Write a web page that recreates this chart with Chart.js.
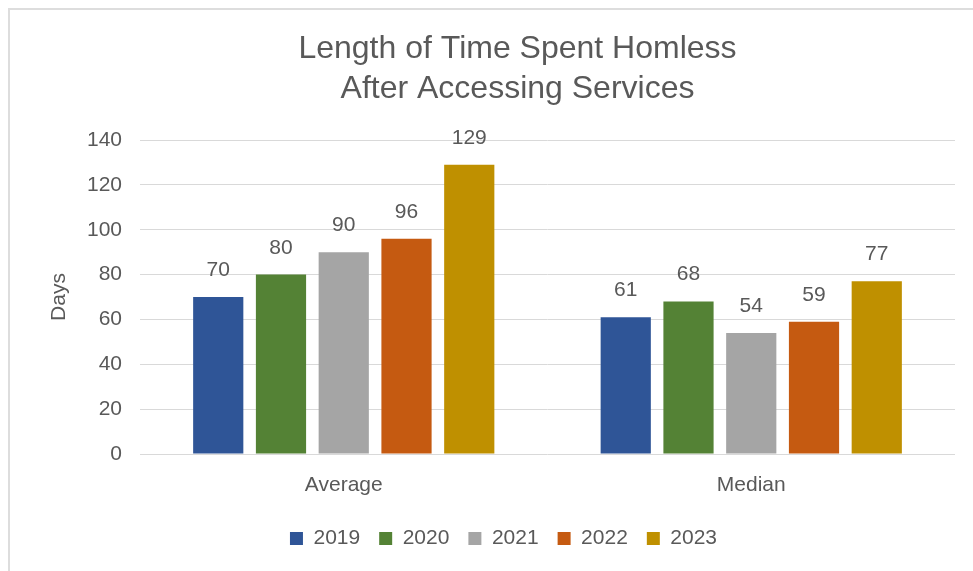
<!DOCTYPE html>
<html>
<head>
<meta charset="utf-8">
<script src="https://cdn.jsdelivr.net/npm/chart.js@4/dist/chart.umd.min.js"></script>
<style>
  html, body { margin: 0; padding: 0; background: #ffffff; }
  #wrap { position: relative; width: 973px; height: 571px; }
</style>
</head>
<body>
<div id="wrap"><canvas id="chart" width="973" height="571"></canvas></div>
<script>
// Days spent homeless after accessing services, by measure and year
const categories = ['Average', 'Median'];
const years = ['2019', '2020', '2021', '2022', '2023'];
const values2019 = [70, 61];
const values2020 = [80, 68];
const values2021 = [90, 54];
const values2022 = [96, 59];
const values2023 = [129, 77];
const yTicks = [0, 20, 40, 60, 80, 100, 120, 140];

const seriesValues = [values2019, values2020, values2021, values2022, values2023];
const seriesColors = ['#2f5597', '#548235', '#a5a5a5', '#c55a11', '#bf9000'];
const textColor = '#595959';
const fontFamily = '"Liberation Sans", Arial, Helvetica, sans-serif';

// light frame around the chart
const framePlugin = {
  id: 'frame',
  beforeDraw(chart) {
    const ctx = chart.ctx;
    ctx.save();
    ctx.strokeStyle = '#dddddd';
    ctx.lineWidth = 2;
    ctx.strokeRect(9, 9, chart.width + 20, chart.height + 20);
    ctx.restore();
  }
};

// the frame runs past the right edge, so title and legend sit right of the canvas centre
const offsetBlocks = {
  id: 'offsetBlocks',
  afterLayout(chart) {
    if (chart.titleBlock) { chart.titleBlock.left += 35; chart.titleBlock.right += 35; }
    if (chart.legend) { chart.legend.left += 21; chart.legend.right += 21; }
  }
};

// value labels above each bar
const valueLabels = {
  id: 'valueLabels',
  afterDatasetsDraw(chart) {
    const ctx = chart.ctx;
    ctx.save();
    ctx.font = '21px ' + fontFamily;
    ctx.fillStyle = textColor;
    ctx.textAlign = 'center';
    ctx.textBaseline = 'alphabetic';
    chart.data.datasets.forEach((ds, i) => {
      const meta = chart.getDatasetMeta(i);
      meta.data.forEach((bar, j) => {
        ctx.fillText(String(ds.data[j]), bar.x, bar.y - 21);
      });
    });
    ctx.restore();
  }
};

new Chart(document.getElementById('chart'), {
  type: 'bar',
  data: {
    labels: categories,
    datasets: years.map((y, i) => ({
      label: y,
      data: seriesValues[i],
      backgroundColor: seriesColors[i],
      borderWidth: 0,
      categoryPercentage: 0.77,
      barPercentage: 0.8
    }))
  },
  options: {
    responsive: false,
    animation: false,
    layout: { padding: { top: 10, left: 10, right: 18, bottom: 12 } },
    plugins: {
      title: {
        display: true,
        text: ['Length of Time Spent Homless', 'After Accessing Services'],
        color: textColor,
        font: { family: fontFamily, size: 32, weight: 'normal', lineHeight: 1.25 },
        padding: { top: 19, bottom: 31 }
      },
      legend: {
        position: 'bottom',
        labels: {
          color: textColor,
          font: { family: fontFamily, size: 21 },
          boxWidth: 13,
          boxHeight: 13,
          padding: 19
        }
      },
      tooltip: { enabled: false }
    },
    scales: {
      x: {
        afterFit(scale) { scale.height = 55; },
        grid: { display: false },
        border: { display: false },
        ticks: {
          color: textColor,
          font: { family: fontFamily, size: 21 },
          padding: 11
        }
      },
      y: {
        min: 0,
        max: 140,
        afterBuildTicks(scale) {
          scale.ticks = yTicks.map(v => ({ value: v }));
        },
        afterFit(scale) { scale.width = 130; },
        grid: { color: '#d9d9d9', lineWidth: 1, drawTicks: false },
        border: { display: false },
        ticks: {
          color: textColor,
          font: { family: fontFamily, size: 21 },
          padding: 18
        },
        title: {
          display: true,
          text: 'Days',
          color: textColor,
          font: { family: fontFamily, size: 21 },
          padding: { top: 37, bottom: 0 }
        }
      }
    }
  },
  plugins: [framePlugin, offsetBlocks, valueLabels]
});
</script>
</body>
</html>
